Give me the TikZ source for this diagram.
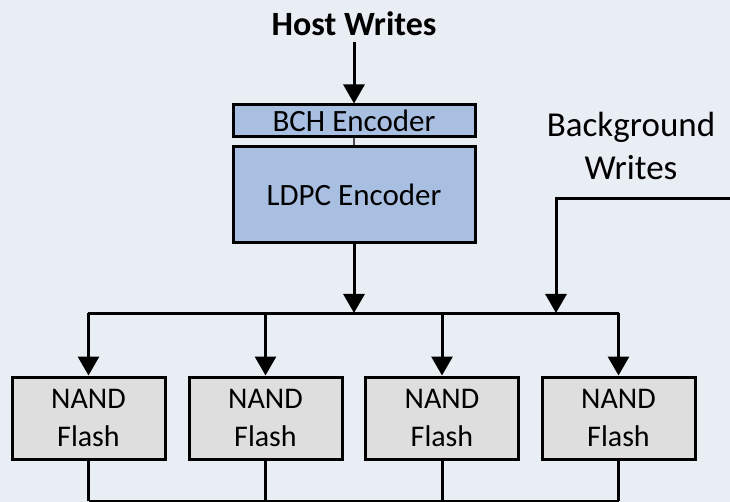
\documentclass[tikz,border=0pt]{standalone}
\usepackage{fontspec}
\setmainfont{Carlito}
\usetikzlibrary{arrows.meta}
\definecolor{bgpanel}{HTML}{E9EDF4}
\definecolor{encfill}{HTML}{A9BFE1}
\definecolor{nandfill}{HTML}{DEDEDE}
\tikzset{
  wire/.style={line width=3pt, black},
  feed/.style={wire, -{Triangle[length=19pt,width=21pt]}},
  encbox/.style={draw=black, line width=3pt, fill=encfill, minimum width=242pt, inner sep=0pt, font=\fontsize{31}{34}\selectfont},
  nandbox/.style={draw=black, line width=3pt, fill=nandfill, minimum width=153pt, minimum height=82pt, inner sep=0pt, align=center, font=\fontsize{30}{38}\selectfont},
  caption/.style={inner sep=0pt, align=center}
}
\begin{document}
\begin{tikzpicture}[x=1pt, y=-1pt]
  \fill[bgpanel] (0,0) rectangle (730,502);
  \useasboundingbox (0,0) rectangle (730,502);

  % encoder stack
  \node[caption, font=\bfseries\fontsize{34}{38}\selectfont] (host) at (354,24) {Host Writes};
  \node[encbox, minimum height=32pt] (bch) at (354,121) {BCH Encoder};
  \node[encbox, minimum height=96pt] (ldpc) at (354,195) {LDPC Encoder};
  \draw[draw=black!70, line width=1.2pt] (bch.south) -- (ldpc.north);

  % background write input
  \node[caption, font=\fontsize{35}{43}\selectfont] (bg) at (631,146) {Background\\Writes};
  \coordinate (bgin) at (730,199);
  \coordinate (bgturn) at (556,199);

  % distribution bus
  \coordinate (busL) at (88,313);
  \coordinate (busR) at (619,313);
  \coordinate (busH) at (354,313);
  \coordinate (busB) at (556,313);

  \draw[feed] (354,42) coordinate (hostend) -- (bch.north);
  \draw[feed] (ldpc.south) -- (busH);
  \draw[feed] (bgin) -- (bgturn) -- (busB);
  \draw[wire] (busL) -- (busR);

  % flash channels
  \foreach \i/\x in {1/88.5, 2/265.5, 3/442, 4/618.5} {
    \node[nandbox] (nand\i) at (\x,418) {NAND\\Flash};
    \coordinate (top\i) at (\x,313);
    \coordinate (bot\i) at (\x,501);
    \draw[feed] (top\i) -- (nand\i.north);
    \draw[wire] (nand\i.south) -- (bot\i);
  }
  \draw[wire] (bot1) -- (bot4);
\end{tikzpicture}
\end{document}
